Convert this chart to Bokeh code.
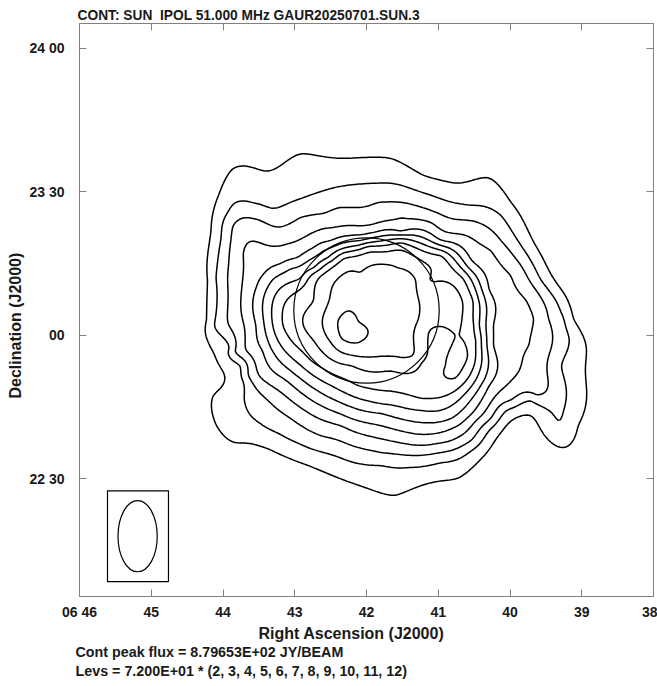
import numpy as np
from bokeh.plotting import figure
from bokeh.models import Range1d, FixedTicker, LinearAxis, Title
from bokeh.embed import file_html
from bokeh.resources import INLINE

# ---- map header -------------------------------------------------------
TITLE = "CONT: SUN\u00a0 IPOL 51.000 MHz GAUR20250701.SUN.3"
PEAK_FLUX = 8.79653e02          # JY/BEAM
LEVEL_UNIT = 7.200e01           # JY/BEAM
LEVEL_STEPS = [2, 3, 4, 5, 6, 7, 8, 9, 10, 11, 12]
RA_NAME = "Right Ascension (J2000)"
DEC_NAME = "Declination (J2000)"

# ---- axes (RA in minutes past 06h, Dec in arcmin from +23 00) ------------
RA_LIMITS = (46.0, 38.0)
DEC_LIMITS = (-54.6, 65.2)
RA_TICKS = [46, 45, 44, 43, 42, 41, 40, 39, 38]
RA_LABELS = ["06 46", "45", "44", "43", "42", "41", "40", "39", "38"]
DEC_TICKS = [60, 30, 0, -30]
DEC_LABELS = ["24 00", "23 30", "00", "22 30"]

# ---- solar disk and restoring beam ---------------------------------------
SUN_RA = 42.0          # min
SUN_DEC = 5.2          # arcmin
SUN_RADIUS = 15.2      # arcmin
BEAM_RA = 45.19
BEAM_DEC = -42.0
BEAM_MAJ = 14.85       # arcmin (N-S)
BEAM_MIN = 8.2         # arcmin (E-W)
BEAM_BOX_RA = (45.61, 44.76)
BEAM_BOX_DEC = (-51.5, -32.5)

# ---- brightness samples along the map's isophotes ------------------------
# offsets from disk centre in arcmin: (east, north)
iso_144 = [(27.9, 29.7), (21.0, 29.1), (13.7, 32.8), (5.3, 31.8), (-5.1, 31.8),
           (-12.0, 28.2), (-19.1, 26.6), (-25.4, 27.8), (-30.2, 22.6), (-35.0, 14.2),
           (-40.1, 5.2), (-43.2, -1.7), (-45.9, -7.3), (-45.9, -15.1), (-44.2, -24.1),
           (-41.3, -28.7), (-38.2, -27.2), (-34.4, -22.0), (-29.2, -24.1), (-24.0, -31.0),
           (-19.1, -35.1), (-13.5, -36.0), (-5.8, -38.7), (-1.6, -37.7), (3.2, -36.0),
           (8.1, -34.1), (12.2, -32.4), (16.4, -30.8), (20.6, -28.9), (24.2, -27.8),
           (27.7, -27.6), (30.4, -25.5), (32.1, -22.0), (32.1, -17.8), (30.4, -12.1),
           (32.5, -7.9), (33.4, -2.1), (33.2, 6.3), (32.5, 16.7), (30.9, 24.1)]
iso_216 = [(31.9, -3.1), (31.5, 6.7), (30.4, 15.1), (29.0, 20.5), (27.7, 22.4),
           (24.2, 22.6), (19.6, 21.3), (17.3, 22.0), (13.7, 23.4), (7.4, 25.5),
           (-2.4, 26.6), (-7.2, 26.2), (-13.5, 24.1), (-21.9, 22.0), (-28.1, 19.9),
           (-32.3, 13.6), (-36.5, 6.3), (-39.6, 2.1), (-41.3, -1.7), (-42.4, -5.9),
           (-40.7, -11.5), (-41.7, -18.8), (-40.3, -23.4), (-38.2, -20.9), (-34.4, -18.8),
           (-29.2, -20.9), (-25.6, -25.1), (-21.9, -29.3), (-15.6, -31.8), (-9.3, -32.8),
           (-3.0, -32.4), (2.6, -31.8), (6.8, -30.3), (11.6, -28.9), (16.4, -26.8),
           (20.6, -24.7), (24.2, -22.0), (25.6, -18.4), (25.6, -15.1), (26.3, -11.5),
           (28.3, -7.9), (30.4, -5.2)]
iso_288 = [(28.8, -3.1), (28.8, 10.0), (27.9, 17.8), (26.3, 19.2), (22.1, 18.8),
           (18.5, 17.4), (13.7, 19.5), (8.9, 20.3), (6.0, 21.5), (-2.4, 22.6),
           (-7.2, 22.6), (-13.5, 20.9), (-21.9, 18.8), (-28.1, 14.6), (-32.3, 9.4),
           (-35.5, 4.2), (-38.0, -1.7), (-38.6, -7.9), (-38.0, -15.1), (-35.5, -17.8),
           (-30.2, -18.8), (-26.0, -22.6), (-21.9, -27.2), (-15.6, -29.7), (-9.3, -30.3),
           (-3.0, -29.7), (3.2, -28.2), (9.5, -26.2), (15.8, -22.6), (21.0, -18.4),
           (24.8, -13.6), (27.9, -8.4)]
iso_360 = [(25.6, -3.1), (25.8, 12.1), (24.8, 14.2), (20.6, 13.6), (16.4, 14.0),
           (11.6, 16.1), (8.9, 17.2), (3.2, 17.8), (-7.2, 19.5), (-13.5, 18.4),
           (-20.8, 15.7), (-26.0, 12.6), (-30.2, 7.3), (-33.4, 2.1), (-35.0, -1.7),
           (-34.0, -7.3), (-31.9, -12.6), (-28.1, -16.7), (-22.9, -23.0), (-17.7, -27.2),
           (-11.4, -28.2), (-3.0, -26.8), (5.3, -24.1), (15.8, -18.8), (22.5, -13.6),
           (25.2, -8.4)]
iso_432 = [(23.1, -3.1), (23.1, 4.6), (21.4, 7.7), (17.9, 9.8), (14.3, 11.1),
           (11.0, 13.2), (7.4, 14.6), (3.2, 15.7), (-1.6, 16.3), (-7.2, 16.5),
           (-15.6, 14.6), (-21.9, 10.5), (-25.6, 4.2), (-26.5, -3.1), (-26.5, -7.3),
           (-25.6, -15.7), (-22.3, -21.3), (-17.7, -24.7), (-11.4, -25.9), (-3.0, -24.1),
           (3.2, -22.6), (9.5, -19.9), (16.8, -14.6), (21.7, -8.4)]
iso_504 = [(21.4, -3.1), (21.4, 3.1), (19.4, 6.7), (15.8, 8.8), (12.2, 10.5),
           (8.9, 12.6), (5.3, 14.0), (1.2, 14.6), (-7.2, 15.7), (-15.6, 13.6),
           (-21.4, 8.8), (-24.6, 3.1), (-25.0, -3.1), (-25.2, -7.3), (-24.6, -14.6),
           (-21.4, -19.2), (-17.7, -22.6), (-11.4, -23.4), (-3.0, -21.5), (2.8, -20.3),
           (8.5, -17.8), (15.4, -13.0), (20.0, -7.9)]
iso_576 = [(19.6, -3.1), (19.4, 2.5), (17.3, 5.2), (13.7, 6.7), (11.0, 8.8),
           (8.1, 10.9), (4.7, 13.0), (-0.3, 14.0), (-7.2, 15.1), (-15.6, 12.6),
           (-20.8, 7.9), (-23.3, 2.5), (-23.5, -3.1), (-24.0, -7.3), (-23.5, -13.0),
           (-20.8, -17.2), (-17.7, -19.9), (-11.4, -20.9), (-3.0, -19.5), (2.2, -18.2),
           (7.4, -15.7), (13.7, -11.5), (17.9, -7.3)]
iso_648 = [(17.5, -3.1), (17.3, 1.0), (15.8, 3.1), (13.7, 4.6), (12.2, 6.7),
           (11.0, 7.9), (8.1, 10.0), (4.7, 12.1), (-0.3, 13.6), (-7.2, 14.2),
           (-15.6, 11.5), (-20.2, 6.7), (-22.3, 2.1), (-22.5, -3.1), (-22.9, -6.3),
           (-22.5, -11.5), (-19.8, -15.7), (-16.6, -17.8), (-11.4, -18.4), (-3.0, -16.7),
           (1.8, -15.7), (6.4, -13.6), (11.6, -10.5), (15.4, -6.7)]
iso_720 = [(11.0, 2.1), (11.0, -6.3), (9.5, 7.3), (4.7, 10.9), (-0.3, 12.1),
           (-6.2, 12.6), (-11.4, 10.5), (-12.9, 6.3), (-13.1, -4.2), (-11.4, -10.9),
           (-5.1, -12.6), (3.2, -11.5), (9.1, -8.8),
           # eastern secondary maximum
           (-19.4, -5.6), (-21.2, -9.4), (-18.7, -14.2), (-16.6, -11.5)]
iso_792 = [(7.8, 2.1), (6.8, 5.6), (1.2, 6.7), (-6.6, 8.8), (-10.4, 6.3),
           (-10.8, -2.1), (-9.9, -9.4), (-3.0, -9.6), (3.9, -9.2), (7.4, -6.7)]
iso_864 = [(3.9, 0.0), (1.8, -2.5), (2.2, -6.9), (5.3, -5.9), (6.0, -2.1)]
spot_values = [(3.9, -3.8, 879.65), (-4.1, 1.0, 835.0), (-6.2, -5.2, 835.0),
               (-19.1, -9.8, 745.0), (-15.0, -7.3, 690.0)]
sky_background = [(45.1, 33.5), (1.2, 46.0), (-40.7, 41.8), (-57.4, -4.2),
                  (-53.2, -43.9), (-17.7, -52.3), (24.2, -48.1), (47.2, -8.4)]


def collect():
    xs, ys, vs = [], [], []
    groups = ((144, iso_144), (216, iso_216), (288, iso_288), (360, iso_360),
              (432, iso_432), (504, iso_504), (576, iso_576), (648, iso_648),
              (720, iso_720), (792, iso_792), (864, iso_864), (0, sky_background))
    for level, pts in groups:
        for e, n in pts:
            xs.append(e); ys.append(n); vs.append(float(level))
    for e, n, v in spot_values:
        xs.append(e); ys.append(n); vs.append(v)
    return np.array(xs), np.array(ys), np.array(vs)


def thin_plate(sx, sy, sv, gx, gy, smooth=1.0):
    n = len(sx)
    d = np.hypot(sx[:, None] - sx[None, :], sy[:, None] - sy[None, :])
    K = np.where(d > 0, d ** 2 * np.log(np.where(d > 0, d, 1.0)), 0.0)
    P = np.column_stack([np.ones(n), sx, sy])
    A = np.zeros((n + 3, n + 3))
    A[:n, :n] = K + smooth * np.eye(n)
    A[:n, n:] = P
    A[n:, :n] = P.T
    rhs = np.concatenate([sv, np.zeros(3)])
    coef = np.linalg.solve(A, rhs)
    w, a = coef[:n], coef[n:]
    GX, GY = np.meshgrid(gx, gy)
    r = np.hypot(GX[..., None] - sx, GY[..., None] - sy)
    U = np.where(r > 0, r ** 2 * np.log(np.where(r > 0, r, 1.0)), 0.0)
    return U @ w + a[0] + a[1] * GX + a[2] * GY


sx, sy, sv = collect()
east = np.linspace(-61, 61, 245)
north = np.linspace(-61, 62, 247)
field = thin_plate(sx, sy, sv, east, north)
ra_grid = SUN_RA + east / 15.0
dec_grid = SUN_DEC + north
levels = [LEVEL_UNIT * s for s in LEVEL_STEPS]

FONT = "Liberation Sans"
INK = "#1a1a1a"
FRAME = "#808080"

p = figure(frame_width=574, frame_height=573,
           x_range=Range1d(*RA_LIMITS), y_range=Range1d(*DEC_LIMITS),
           output_backend="svg", toolbar_location=None,
           min_border_left=79, min_border_right=4, min_border_top=23,
           min_border_bottom=90, x_axis_type=None, y_axis_type=None)
p.grid.visible = False
p.outline_line_color = FRAME
p.outline_line_width = 1
p.background_fill_color = "white"
p.border_fill_color = "white"

p.title.text = TITLE
p.title.align = "left"
p.title.offset = -2
p.title.text_font = FONT
p.title.text_font_size = "13.75px"
p.title.text_font_style = "bold"
p.title.text_color = INK
p.title.standoff = 2


def make_axis(ticks, labels, show_labels):
    ax = LinearAxis(ticker=FixedTicker(ticks=ticks))
    ax.major_tick_in = 7
    ax.major_tick_out = 0
    ax.minor_tick_line_color = None
    ax.axis_line_color = FRAME
    ax.major_tick_line_color = FRAME
    ax.major_label_text_font = FONT
    ax.major_label_text_font_style = "bold"
    ax.major_label_text_color = INK
    if show_labels:
        ax.major_label_overrides = dict(zip(ticks, labels))
        ax.major_label_text_font_size = "14px"
    else:
        ax.major_label_overrides = {t: "" for t in ticks}
        ax.major_label_text_font_size = "0px"
        ax.major_label_standoff = 0
    return ax


def caption(text, size, offset, standoff, valign="bottom"):
    return Title(text=text, align="left", vertical_align=valign, text_font=FONT,
                 text_font_size=size, text_font_style="bold", text_color=INK,
                 offset=offset, standoff=standoff)


xb = make_axis(RA_TICKS, RA_LABELS, True)
xb.major_label_standoff = 7
yl = make_axis(DEC_TICKS, DEC_LABELS, True)
yl.major_label_standoff = 15
p.add_layout(xb, "below")
p.add_layout(yl, "left")
p.add_layout(make_axis(RA_TICKS, RA_LABELS, False), "above")
p.add_layout(make_axis(DEC_TICKS, DEC_LABELS, False), "right")

# axis names, placed where the map software puts them
p.add_layout(caption(RA_NAME, "16px", 179, 0), "below")
p.add_layout(caption(DEC_NAME, "16px", 198, 4, "middle"), "left")

footer = ("Cont peak flux = %.5E JY/BEAM" % PEAK_FLUX,
          "Levs = %.3E * (%s)" % (LEVEL_UNIT, ", ".join(str(s) for s in LEVEL_STEPS)))
for i, line in enumerate(footer):
    p.add_layout(caption(line, "14.3px", -4, 1 if i == 0 else 0), "below")

p.contour(x=ra_grid, y=dec_grid, z=field, levels=levels,
          line_color="black", line_width=1.5)

p.ellipse(x=[SUN_RA], y=[SUN_DEC], width=[2 * SUN_RADIUS / 15.0],
          height=[2 * SUN_RADIUS], fill_color=None, line_color="black", line_width=1.2)
p.quad(left=[BEAM_BOX_RA[0]], right=[BEAM_BOX_RA[1]], bottom=[BEAM_BOX_DEC[0]],
       top=[BEAM_BOX_DEC[1]], fill_color=None, line_color="black", line_width=1.2)
p.ellipse(x=[BEAM_RA], y=[BEAM_DEC], width=[BEAM_MIN / 15.0], height=[BEAM_MAJ],
          fill_color=None, line_color="black", line_width=1.2)

open("out.html", "w").write(file_html(p, INLINE))
